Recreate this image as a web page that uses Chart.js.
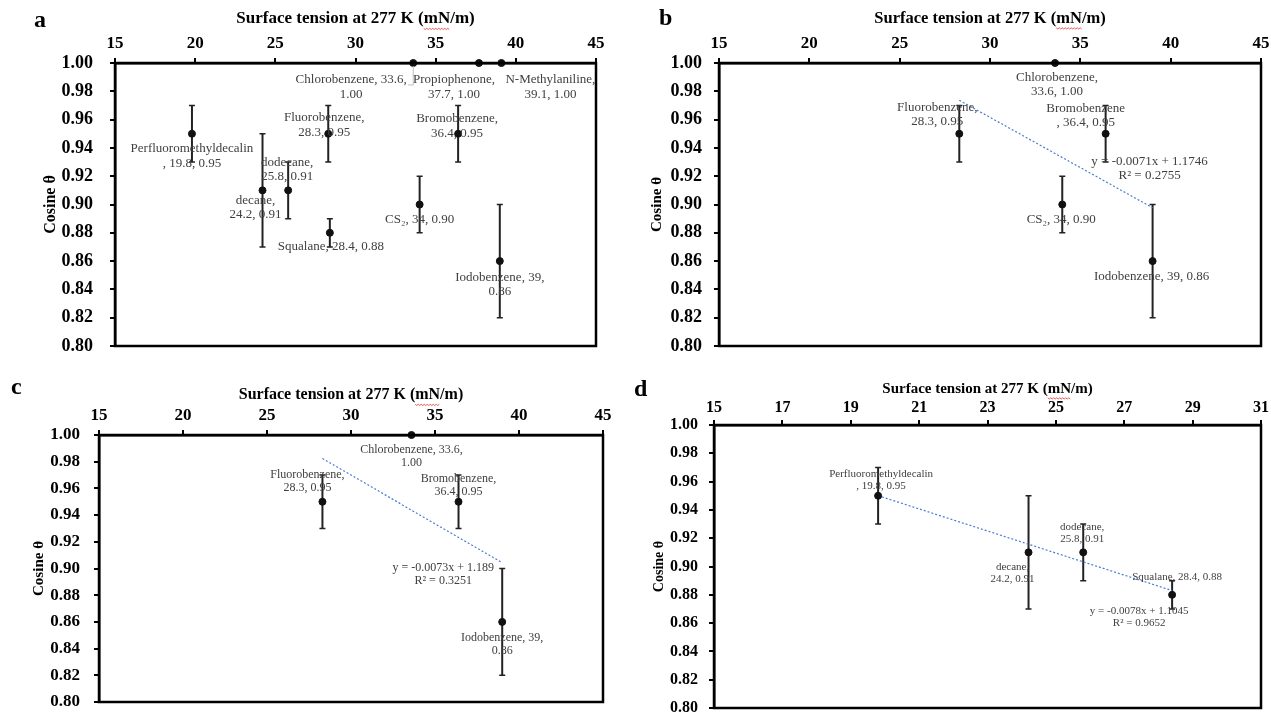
<!DOCTYPE html>
<html>
<head>
<meta charset="utf-8">
<style>
    body, html { margin: 0; padding: 0; background: #fff; }
    #page { position: relative; width: 1271px; height: 713px; overflow: hidden; background: #fff; }
    canvas { position: absolute; }
    .tag { position: absolute; font-family: 'Liberation Serif', serif; font-weight: bold; font-size: 24px; line-height: 1; color: #000; }
</style>
<script src="https://cdn.jsdelivr.net/npm/chart.js"></script>
</head>
<body>
<div id="page">
    <canvas id="chartA" width="635" height="356" style="left:0px;top:0px"></canvas>
    <canvas id="chartB" width="636" height="356" style="left:635px;top:0px"></canvas>
    <canvas id="chartC" width="635" height="357" style="left:0px;top:356px"></canvas>
    <canvas id="chartD" width="636" height="357" style="left:635px;top:356px"></canvas>
    <div class="tag" style="left:34px;top:7px">a</div>
    <div class="tag" style="left:659px;top:5px">b</div>
    <div class="tag" style="left:11px;top:374px">c</div>
    <div class="tag" style="left:634px;top:376px">d</div>
</div>

<script>
    // solvent data (surface tension at 277 K, cosine of contact angle, error)
    const solvents = ['Perfluoromethyldecalin', 'decane', 'dodecane', 'Fluorobenzene', 'Squalane',
                      'Chlorobenzene', 'CS₂', 'Bromobenzene', 'Propiophenone', 'N-Methylaniline', 'Iodobenzene'];
    const tension = [19.8, 24.2, 25.8, 28.3, 28.4, 33.6, 34, 36.4, 37.7, 39.1, 39];
    const cosine  = [0.95, 0.91, 0.91, 0.95, 0.88, 1.00, 0.90, 0.95, 1.00, 1.00, 0.86];
    const cosErr  = [0.02, 0.04, 0.02, 0.02, 0.01, 0, 0.02, 0.02, 0, 0, 0.04];

    // which solvents go in each panel
    const panelA = solvents.slice();
    const panelB = ['Fluorobenzene', 'Chlorobenzene', 'CS₂', 'Bromobenzene', 'Iodobenzene'];
    const panelC = ['Fluorobenzene', 'Chlorobenzene', 'Bromobenzene', 'Iodobenzene'];
    const panelD = ['Perfluoromethyldecalin', 'decane', 'dodecane', 'Squalane'];

    // linear trendlines for b, c, d
    const fitSlope = [-0.0071, -0.0073, -0.0078];
    const fitIntercept = [1.1746, 1.189, 1.1045];
    const fitR2 = ['0.2755', '0.3251', '0.9652'];

    const xTitle = 'Surface tension at 277 K (mN/m)';
    const yTitle = 'Cosine θ';
    const SERIF = "'Liberation Serif', 'Times New Roman', serif";

    function labelLines(i, split) {
        const n = solvents[i], x = String(tension[i]), y = cosine[i].toFixed(2);
        if (split === 'comma') return [n + ',', x + ', ' + y];
        if (split === 'lead') return [n, ', ' + x + ', ' + y];
        if (split === 'nameX') return [n + ', ' + x + ',', y];
        return [n + ', ' + x + ', ' + y];
    }

    // error bars, drawn under the markers
    const errorBars = {
        id: 'errorBars',
        beforeDatasetsDraw(chart) {
            const ds = chart.data.datasets[0];
            const meta = chart.getDatasetMeta(0);
            const ys = chart.scales.y;
            const ctx = chart.ctx;
            ctx.save();
            ctx.strokeStyle = '#222';
            meta.data.forEach((pt, j) => {
                const e = ds.errs[j];
                if (!e) return;
                const y0 = ys.getPixelForValue(ds.data[j].y + e);
                const y1 = ys.getPixelForValue(ds.data[j].y - e);
                ctx.lineWidth = 2;
                ctx.beginPath();
                ctx.moveTo(pt.x, y0); ctx.lineTo(pt.x, y1);
                ctx.stroke();
                ctx.lineWidth = 1.5;
                ctx.beginPath();
                ctx.moveTo(pt.x - 3, y0); ctx.lineTo(pt.x + 3, y0);
                ctx.moveTo(pt.x - 3, y1); ctx.lineTo(pt.x + 3, y1);
                ctx.stroke();
            });
            ctx.restore();
        }
    };

    // data labels, trendline label, frame and the spell-check squiggle
    const decorations = {
        id: 'decorations',
        afterDatasetsDraw(chart, args, opts) {
            const ctx = chart.ctx;
            const ds = chart.data.datasets[0];
            const meta = chart.getDatasetMeta(0);
            ctx.save();
            ctx.font = opts.labelSize + 'px ' + SERIF;
            ctx.fillStyle = '#404040';
            ctx.textAlign = 'center';
            ctx.textBaseline = 'middle';
            meta.data.forEach((pt, j) => {
                const t = ds.tags[j];
                const lines = labelLines(t.i, t.split);
                lines.forEach((s, k) => ctx.fillText(s, pt.x + t.dx, pt.y + t.dy + k * opts.lineGap));
                if (t.leader) {
                    ctx.strokeStyle = '#bfbfbf';
                    ctx.lineWidth = 1;
                    ctx.beginPath();
                    ctx.moveTo(pt.x, pt.y + 3); ctx.lineTo(pt.x, pt.y + 22); ctx.lineTo(pt.x - 5, pt.y + 22);
                    ctx.stroke();
                }
            });
            if (opts.fit != null) {
                const fm = chart.getDatasetMeta(1);
                const end = fm.data[fm.data.length - 1];
                const k = opts.fit;
                const eq = 'y = ' + fitSlope[k] + 'x + ' + fitIntercept[k];
                ctx.fillText(eq, end.x + opts.fitDx, end.y + opts.fitDy);
                ctx.fillText('R² = ' + fitR2[k], end.x + opts.fitDx, end.y + opts.fitDy + opts.lineGap);
            }
            ctx.restore();
        },
        afterDraw(chart, args, opts) {
            const ctx = chart.ctx;
            const a = chart.chartArea;
            ctx.save();
            ctx.strokeStyle = '#000';
            ctx.lineWidth = 2.5;
            ctx.strokeRect(a.left, a.top, a.right - a.left, a.bottom - a.top);
            // red wavy underline under "mN"
            const xs = chart.scales.x;
            const size = opts.titleSize;
            ctx.font = 'bold ' + size + 'px ' + SERIF;
            const w = ctx.measureText(xTitle).width;
            const start = (xs.left + xs.right) / 2 - w / 2;
            const p = ctx.measureText('Surface tension at 277 K (').width;
            const m = ctx.measureText('mN').width;
            const y = xs.top + opts.titleTop + size + 1.5;
            ctx.strokeStyle = '#e03030';
            ctx.lineWidth = 0.8;
            ctx.beginPath();
            for (let x = start + p, k = 0; x <= start + p + m; x += 1.5, k++) {
                const yy = y + (k % 2 ? 1 : -0.2);
                if (k === 0) ctx.moveTo(x, yy); else ctx.lineTo(x, yy);
            }
            ctx.stroke();
            ctx.restore();
        }
    };

    function makePanel(id, cfg) {
        const idx = cfg.names.map(n => solvents.indexOf(n));
        const datasets = [{
            type: 'scatter',
            data: idx.map(i => ({x: tension[i], y: cosine[i]})),
            errs: idx.map(i => cosErr[i]),
            tags: idx.map(i => Object.assign({i: i}, cfg.tags[solvents[i]])),
            pointRadius: 3.5,
            pointBackgroundColor: '#111',
            pointBorderColor: '#111',
            pointBorderWidth: 1,
            clip: false,
            order: 0
        }];
        if (cfg.fit != null) {
            const xs = idx.map(i => tension[i]);
            const x0 = Math.min(...xs), x1 = Math.max(...xs);
            const k = cfg.fit;
            datasets.push({
                type: 'line',
                data: [{x: x0, y: fitSlope[k] * x0 + fitIntercept[k]}, {x: x1, y: fitSlope[k] * x1 + fitIntercept[k]}],
                borderColor: '#4a7bd0',
                borderWidth: 1.2,
                borderDash: [2, 2],
                pointRadius: 0,
                fill: false,
                clip: false,
                order: 1
            });
        }
        const axisGrid = {drawOnChartArea: false, drawTicks: true, tickLength: 5, color: '#000', lineWidth: 2};
        return new Chart(document.getElementById(id).getContext('2d'), {
            data: {datasets: datasets},
            options: {
                responsive: false,
                animation: false,
                devicePixelRatio: 1,
                layout: {padding: {left: 0, top: 0, right: cfg.right, bottom: cfg.bottom}},
                plugins: {
                    legend: {display: false},
                    tooltip: {enabled: false},
                    decorations: {labelSize: cfg.labelSize, lineGap: cfg.lineGap, fit: cfg.fit,
                                  fitDx: cfg.fitDx, fitDy: cfg.fitDy, titleSize: cfg.xTitleSize, titleTop: cfg.xTitleTop}
                },
                scales: {
                    x: {
                        type: 'linear', position: 'top',
                        min: cfg.xMin, max: cfg.xMax,
                        ticks: {stepSize: cfg.xStep, color: '#000', padding: cfg.xPad, maxRotation: 0, autoSkip: false,
                                font: {family: SERIF, weight: 'bold', size: cfg.xTick, lineHeight: 1}},
                        grid: axisGrid,
                        border: {color: '#000', width: 2.5},
                        title: {display: true, text: xTitle, color: '#000', padding: {top: cfg.xTitleTop, bottom: 0},
                                font: {family: SERIF, weight: 'bold', size: cfg.xTitleSize, lineHeight: 1}},
                        afterFit(s) { s.height = cfg.top; s.paddingLeft = 0; s.paddingRight = 0; }
                    },
                    y: {
                        type: 'linear', position: 'left',
                        min: 0.8, max: 1.0,
                        ticks: {stepSize: 0.02, color: '#000', padding: cfg.yPad, autoSkip: false,
                                callback: v => v.toFixed(2),
                                font: {family: SERIF, weight: 'bold', size: cfg.yTick, lineHeight: 1}},
                        grid: axisGrid,
                        border: {color: '#000', width: 2.5},
                        title: {display: true, text: yTitle, color: '#000', padding: {top: cfg.yTitleTop, bottom: 0},
                                font: {family: SERIF, weight: 'bold', size: cfg.yTitleSize, lineHeight: 1}},
                        afterFit(s) { s.width = cfg.left; s.paddingTop = 0; s.paddingBottom = 0; }
                    }
                }
            },
            plugins: [errorBars, decorations]
        });
    }

    makePanel('chartA', {
        names: panelA, xMin: 15, xMax: 45, xStep: 5,
        left: 115, top: 63, right: 39, bottom: 10,
        xTick: 17, yTick: 18, xPad: 5.5, yPad: 17,
        xTitleSize: 17, xTitleTop: 10, yTitleSize: 16, yTitleTop: 43,
        labelSize: 13, lineGap: 14.5,
        tags: {
            'Perfluoromethyldecalin': {split: 'lead', dx: 0, dy: 15},
            'decane': {split: 'comma', dx: -7, dy: 10},
            'dodecane': {split: 'comma', dx: -1, dy: -28},
            'Fluorobenzene': {split: 'comma', dx: -4, dy: -16},
            'Squalane': {split: 'one', dx: 1, dy: 14},
            'Chlorobenzene': {split: 'nameX', dx: -62, dy: 17, leader: true},
            'CS₂': {split: 'one', dx: 0, dy: 15},
            'Bromobenzene': {split: 'comma', dx: -1, dy: -15},
            'Propiophenone': {split: 'comma', dx: -25, dy: 17},
            'N-Methylaniline': {split: 'comma', dx: 49, dy: 17},
            'Iodobenzene': {split: 'nameX', dx: 0, dy: 16}
        }
    });

    makePanel('chartB', {
        names: panelB, xMin: 15, xMax: 45, xStep: 5, fit: 0, fitDx: -3, fitDy: -46,
        left: 84, top: 63, right: 10, bottom: 10,
        xTick: 17, yTick: 18, xPad: 5.5, yPad: 12,
        xTitleSize: 16.5, xTitleTop: 10, yTitleSize: 15, yTitleTop: 14.5,
        labelSize: 13, lineGap: 14,
        tags: {
            'Fluorobenzene': {split: 'comma', dx: -22, dy: -26},
            'Chlorobenzene': {split: 'comma', dx: 2, dy: 15},
            'Bromobenzene': {split: 'lead', dx: -20, dy: -25},
            'CS₂': {split: 'one', dx: -1, dy: 15},
            'Iodobenzene': {split: 'one', dx: -1, dy: 15}
        }
    });

    makePanel('chartC', {
        names: panelC, xMin: 15, xMax: 45, xStep: 5, fit: 1, fitDx: -59, fitDy: 5,
        left: 99, top: 79, right: 32, bottom: 11,
        xTick: 17, yTick: 17, xPad: 5.5, yPad: 14,
        xTitleSize: 16, xTitleTop: 31, yTitleSize: 15, yTitleTop: 31.5,
        labelSize: 12, lineGap: 13,
        tags: {
            'Chlorobenzene': {split: 'nameX', dx: 0, dy: 15},
            'Fluorobenzene': {split: 'comma', dx: -15, dy: -27},
            'Bromobenzene': {split: 'comma', dx: 0, dy: -23},
            'Iodobenzene': {split: 'nameX', dx: 0, dy: 16}
        }
    });

    makePanel('chartD', {
        names: panelD, xMin: 15, xMax: 31, xStep: 2, fit: 2, fitDx: -33, fitDy: 21,
        left: 79, top: 69, right: 10, bottom: 4,
        xTick: 16, yTick: 16, xPad: 4, yPad: 11,
        xTitleSize: 15, xTitleTop: 25.5, yTitleSize: 14, yTitleTop: 17,
        labelSize: 11, lineGap: 12,
        tags: {
            'Perfluoromethyldecalin': {split: 'lead', dx: 3, dy: -22},
            'decane': {split: 'comma', dx: -16, dy: 15},
            'dodecane': {split: 'comma', dx: -1, dy: -25},
            'Squalane': {split: 'one', dx: 5, dy: -18}
        }
    });
</script>
</body>
</html>
